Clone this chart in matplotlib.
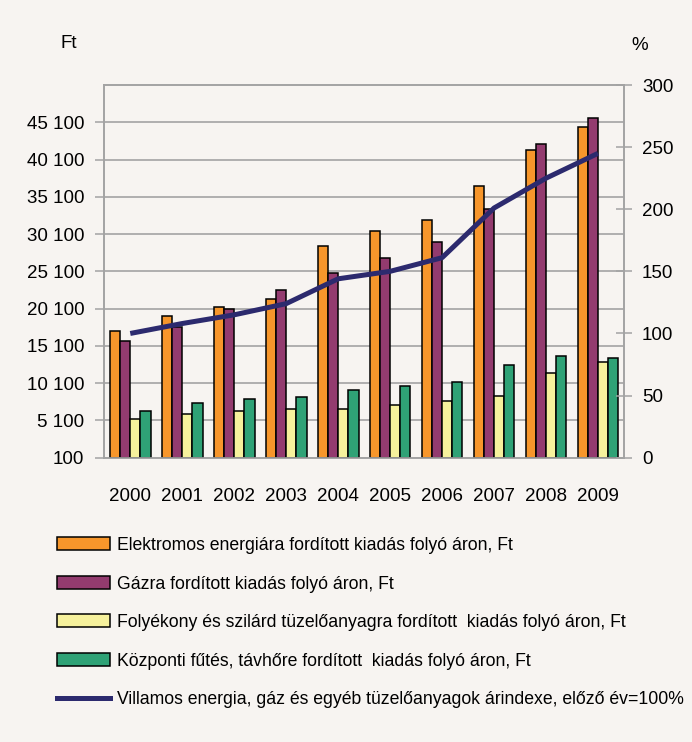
import matplotlib
matplotlib.use("Agg")
import matplotlib.pyplot as plt
import numpy as np
from matplotlib.patches import Patch
from matplotlib.lines import Line2D

# adatok (abrarol leolvasva)
evek = ["2000", "2001", "2002", "2003", "2004", "2005", "2006", "2007", "2008", "2009"]
elektromos = [17060, 19100, 20360, 21400, 28500, 30480, 32000, 36600, 41390, 44440]
gaz = [15800, 17600, 20100, 22640, 24900, 26940, 29000, 33510, 42160, 45650]
folyekony = [5330, 5920, 6400, 6640, 6640, 7170, 7670, 8420, 11470, 12980]
kozponti = [6400, 7480, 7940, 8200, 9180, 9720, 10220, 12500, 13750, 13520]
arindex = [100, 108, 115, 124, 144, 150, 161, 201, 225, 245]

bal_tickek = [100, 5100, 10100, 15100, 20100, 25100, 30100, 35100, 40100, 45100]
bal_cimkek = ["100", "5 100", "10 100", "15 100", "20 100", "25 100",
              "30 100", "35 100", "40 100", "45 100"]
jobb_tickek = [0, 50, 100, 150, 200, 250, 300]

cimkek = ["Elektromos energiára fordított kiadás folyó áron, Ft",
          "Gázra fordított kiadás folyó áron, Ft",
          "Folyékony és szilárd tüzelőanyagra fordított  kiadás folyó áron, Ft",
          "Központi fűtés, távhőre fordított  kiadás folyó áron, Ft",
          "Villamos energia, gáz és egyéb tüzelőanyagok árindexe, előző év=100%"]

szinek = ["#f7962b", "#933b6f", "#f6f19c", "#2fa276"]
vonal_szin = "#2c2a6e"
hatter = "#f7f4f1"
racs = "#a3a3a3"

plt.rcParams["font.family"] = ["Liberation Sans Narrow", "Liberation Sans", "DejaVu Sans"]

fig = plt.figure(figsize=(6.92, 7.42), dpi=100, facecolor=hatter)
ax = fig.add_axes([0.1507, 0.3832, 0.751, 0.5022])
ax.set_facecolor(hatter)

x = np.arange(len(evek))
w = 0.196
sorok = [elektromos, gaz, folyekony, kozponti]
for i, (s, c) in enumerate(zip(sorok, szinek)):
    ax.bar(x + (i - 1.5) * w, np.array(s) - 100, w, bottom=100, color=c,
           edgecolor="black", linewidth=1.1, zorder=3)

ax.set_xlim(-0.5, len(evek) - 0.5)
ax.set_ylim(100, 50100)
ax.set_yticks(bal_tickek)
ax.set_yticklabels(bal_cimkek)
ax.set_xticks(x)
ax.set_xticklabels(evek)
ax.yaxis.grid(True, color=racs, linewidth=1.2, zorder=0)
ax.tick_params(axis="y", direction="out", length=6.5, width=1.1, color=racs,
               pad=8, labelsize=13.5)
ax.tick_params(axis="x", length=0, pad=22, labelsize=13.5)
for sp in ax.spines.values():
    sp.set_color(racs)
    sp.set_linewidth(1.2)

ax2 = ax.twinx()
ax2.plot(x, arindex, color=vonal_szin, linewidth=3.6, zorder=5, solid_capstyle="butt")
ax2.set_ylim(0, 300)
ax2.set_yticks(jobb_tickek)
ax2.tick_params(axis="y", direction="inout", length=12, width=1.1, color=racs,
                pad=7, labelsize=13.5)
for sp in ax2.spines.values():
    sp.set_color(racs)
    sp.set_linewidth(1.2)

fig.text(69 / 692, 1 - 43 / 742, "Ft", ha="center", va="center", fontsize=13.5)
fig.text(640 / 692, 1 - 46 / 742, "%", ha="center", va="center", fontsize=13.5)

# jelmagyarazat
kezelok = [Patch(facecolor=c, edgecolor="black", linewidth=1.1) for c in szinek]
kezelok.append(Line2D([0], [0], color=vonal_szin, linewidth=3.6))
fig.legend(kezelok, cimkek, loc="upper left", bbox_to_anchor=(57 / 692, 1 - 537 / 742),
           frameon=False, fontsize=12.7, handlelength=3.0, handleheight=0.75,
           handletextpad=0.38, labelspacing=1.22, borderpad=0, borderaxespad=0)

fig.savefig("out.png", dpi=100, facecolor=hatter)
